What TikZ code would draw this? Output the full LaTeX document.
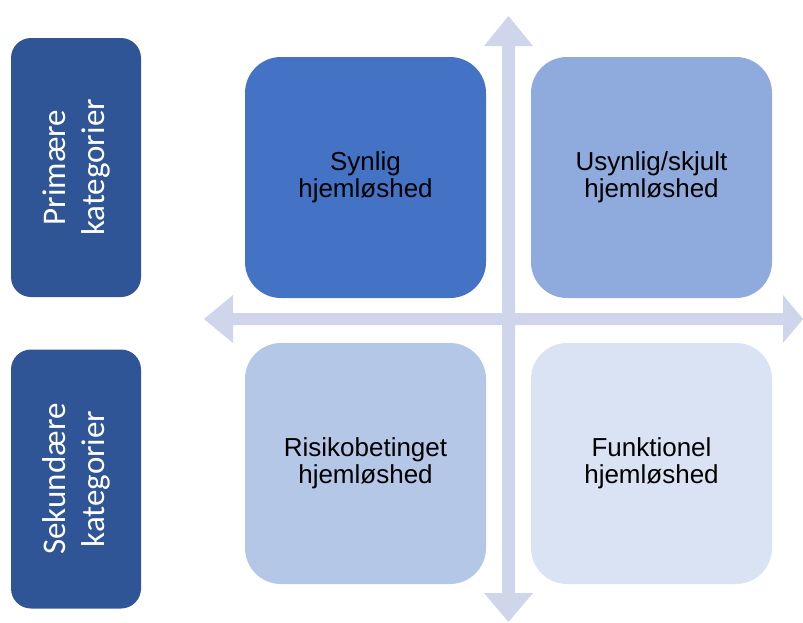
\documentclass[tikz,border=0pt]{standalone}
\usepackage{fontspec}
\setmainfont{Liberation Sans}
\newfontfamily\calfont{Carlito}
\definecolor{catblue}{HTML}{2F5597}
\definecolor{qa}{HTML}{4472C4}
\definecolor{qb}{HTML}{8FAADC}
\definecolor{qc}{HTML}{B4C7E7}
\definecolor{qd}{HTML}{DAE3F3}
\definecolor{arrowc}{HTML}{CFD5EA}
\begin{document}
\begin{tikzpicture}[x=1pt,y=-1pt,
  catbox/.style={draw=none,fill=catblue,rounded corners=20pt,minimum width=130pt,minimum height=259pt,inner sep=0pt},
  cattext/.style={text=white,font=\calfont\fontsize{33}{39}\selectfont,align=center,rotate=90},
  quad/.style={draw=none,rounded corners=36pt,minimum width=241pt,minimum height=241pt,inner sep=0pt,
    font=\fontsize{26}{27.5}\selectfont,align=center,text=black}]
\useasboundingbox (0,0) rectangle (803,622);
% axes arrows
\fill[arrowc] (502,46) -- (484,46) -- (508.5,16) -- (533,46) -- (515,46)
  -- (515,593) -- (533,593) -- (508.5,622) -- (484,593) -- (502,593) -- cycle;
\fill[arrowc] (233,313) -- (233,295) -- (204,319) -- (233,343) -- (233,325)
  -- (783,325) -- (783,343) -- (803,319) -- (783,295) -- (783,313) -- cycle;
% category boxes
\node[catbox] (prim) at (76,167.5) {};
\node[cattext] (primt) at (prim.center) {Primære\\kategorier};
\node[catbox] (sek) at (76,479) {};
\node[cattext] (sekt) at (sek.center) {Sekundære\\kategorier};
% quadrants
\node[quad,fill=qa] (q1) at (365.5,177.5) {Synlig\\hjemløshed};
\node[quad,fill=qb] (q2) at (651.5,177.5) {Usynlig/skjult\\hjemløshed};
\node[quad,fill=qc] (q3) at (365.5,463.5) {Risikobetinget\\hjemløshed};
\node[quad,fill=qd] (q4) at (651.5,463.5) {Funktionel\\hjemløshed};
\end{tikzpicture}
\end{document}
